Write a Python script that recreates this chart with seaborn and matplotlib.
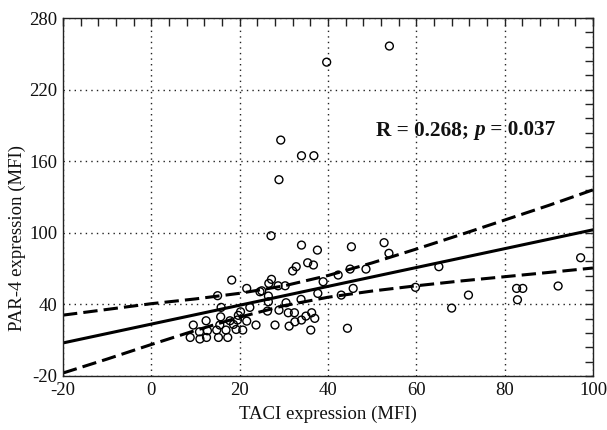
import numpy as np
import pandas as pd
import seaborn as sns
import matplotlib
matplotlib.use("Agg")
import matplotlib.pyplot as plt
from matplotlib.ticker import AutoMinorLocator, FixedLocator, MultipleLocator

# ---- data ----
taci = [53.9, 39.7, 29.3, 34.0, 36.8, 28.9, 27.1, 34.0, 37.6, 45.3, 52.7, 53.8,
        45.0, 48.6, 43.0, 45.7, 44.4, 65.1, 59.8, 71.8, 68.0, 82.7, 84.1, 82.9,
        92.1, 97.2,
        32.8, 32.0, 35.4, 36.7, 27.2, 26.6, 28.7, 30.3, 25.0, 26.5, 38.9, 42.3,
        37.7, 33.9, 30.5, 26.3, 28.9, 31.0, 32.4, 36.3, 35.0, 37.0, 34.0, 32.5,
        31.2, 28.0, 36.1,
        18.2, 15.0, 21.6, 15.8, 9.5, 12.4, 15.7, 17.8, 8.8, 10.9, 11.0, 12.7,
        12.5, 14.8, 15.2, 17.3, 16.9, 15.5, 19.2, 18.6, 19.7, 20.2, 19.5, 20.7,
        21.6, 22.3, 23.7, 26.5, 24.6]
par4 = [256.5, 243.0, 177.7, 164.6, 164.6, 144.5, 97.5, 89.7, 85.5, 88.3, 91.7, 82.8,
        69.6, 69.6, 47.8, 53.4, 20.0, 71.6, 54.3, 47.8, 36.9, 53.4, 53.4, 43.9,
        55.4, 79.1,
        71.6, 68.0, 74.9, 73.0, 61.0, 57.6, 55.6, 55.6, 51.4, 47.0, 59.0, 64.6,
        49.2, 44.2, 41.4, 34.4, 35.2, 33.0, 33.0, 33.0, 30.2, 28.3, 26.9, 25.4,
        21.8, 22.7, 18.5,
        60.4, 47.3, 53.4, 37.5, 22.7, 26.3, 29.6, 26.3, 12.3, 17.0, 11.0, 17.9,
        12.3, 18.5, 12.3, 12.3, 18.5, 22.7, 19.0, 23.2, 30.8, 33.8, 26.9, 18.5,
        26.0, 37.5, 22.7, 42.2, 50.6]

# regression line and 95% confidence limits
fit_x = [-20, -10, 0, 10, 20, 30, 40, 50, 60, 70, 80, 90, 100]
fit_y = [7.7, 15.6, 23.5, 31.4, 39.3, 47.2, 55.1, 63.0, 70.9, 78.8, 86.7, 94.6, 102.5]
upper_y = [31.0, 35.8, 40.6, 44.6, 49.3, 55.5, 64.2, 74.8, 86.4, 98.4, 110.7, 123.0, 136.0]
lower_y = [-17.5, -5.8, 6.4, 18.2, 29.3, 38.9, 46.0, 51.2, 55.6, 59.6, 63.2, 66.8, 70.5]

stat_parts = ["R = 0.268; ", "p", " = 0.037"]
xlabel = "TACI expression (MFI)"
ylabel = "PAR-4 expression (MFI)"

df = pd.DataFrame({"TACI": taci, "PAR4": par4})
band = pd.DataFrame({"x": fit_x, "fit": fit_y, "hi": upper_y, "lo": lower_y})

sns.set_style("white")
plt.rcParams["font.family"] = ["Liberation Serif", "DejaVu Serif"]
plt.rcParams["axes.unicode_minus"] = False

fig = plt.figure(figsize=(6.07, 4.30), dpi=100)
ax = fig.add_axes([63 / 607, 1 - 376 / 430, (593 - 63) / 607, (376 - 18) / 430])

dash = (0, (4.7, 2.0))
sns.lineplot(data=band, x="x", y="fit", color="black", lw=2.2, ax=ax)
sns.lineplot(data=band, x="x", y="hi", color="black", lw=2.2, ax=ax, linestyle=dash)
sns.lineplot(data=band, x="x", y="lo", color="black", lw=2.2, ax=ax, linestyle=dash)

sns.scatterplot(data=df, x="TACI", y="PAR4", ax=ax, marker="o", s=32,
                facecolor="none", edgecolor="black", linewidth=1.0, zorder=3)

ax.set_xlim(-20, 100)
ax.set_ylim(-20, 280)
ax.xaxis.set_major_locator(MultipleLocator(20))
ax.yaxis.set_major_locator(FixedLocator([-20, 40, 100, 160, 220, 280]))
ax.xaxis.set_minor_locator(AutoMinorLocator(5))
ax.yaxis.set_minor_locator(AutoMinorLocator(5))
ax.tick_params(which="both", direction="in", top=True, right=True, length=6,
               width=1, color="#222222", labelsize=13.5, pad=4, labelcolor="#111111")
ax.grid(True, which="major", color="#222222", linestyle=(0, (1, 3)), lw=1)
for sp in ax.spines.values():
    sp.set_color("#222222"); sp.set_linewidth(1)

ax.set_xlabel(xlabel, fontsize=13.5, labelpad=5, color="#111111")
ax.set_ylabel(ylabel, fontsize=13.5, color="#111111")
ax.yaxis.set_label_coords(-0.07, 0.385)

fs = 15.3
t1 = ax.text(0.591, 0.688, stat_parts[0], transform=ax.transAxes, fontsize=fs,
             fontweight="bold", ha="left", va="center", color="#111111")
t2 = ax.annotate(stat_parts[1], xy=(1, 0), xycoords=t1, fontsize=fs,
                 fontweight="bold", fontstyle="italic", ha="left", va="bottom",
                 color="#111111")
t3 = ax.annotate(stat_parts[2], xy=(1, 0), xycoords=t2, fontsize=fs,
                 fontweight="bold", ha="left", va="bottom", color="#111111")

fig.savefig("out.png", dpi=100)
